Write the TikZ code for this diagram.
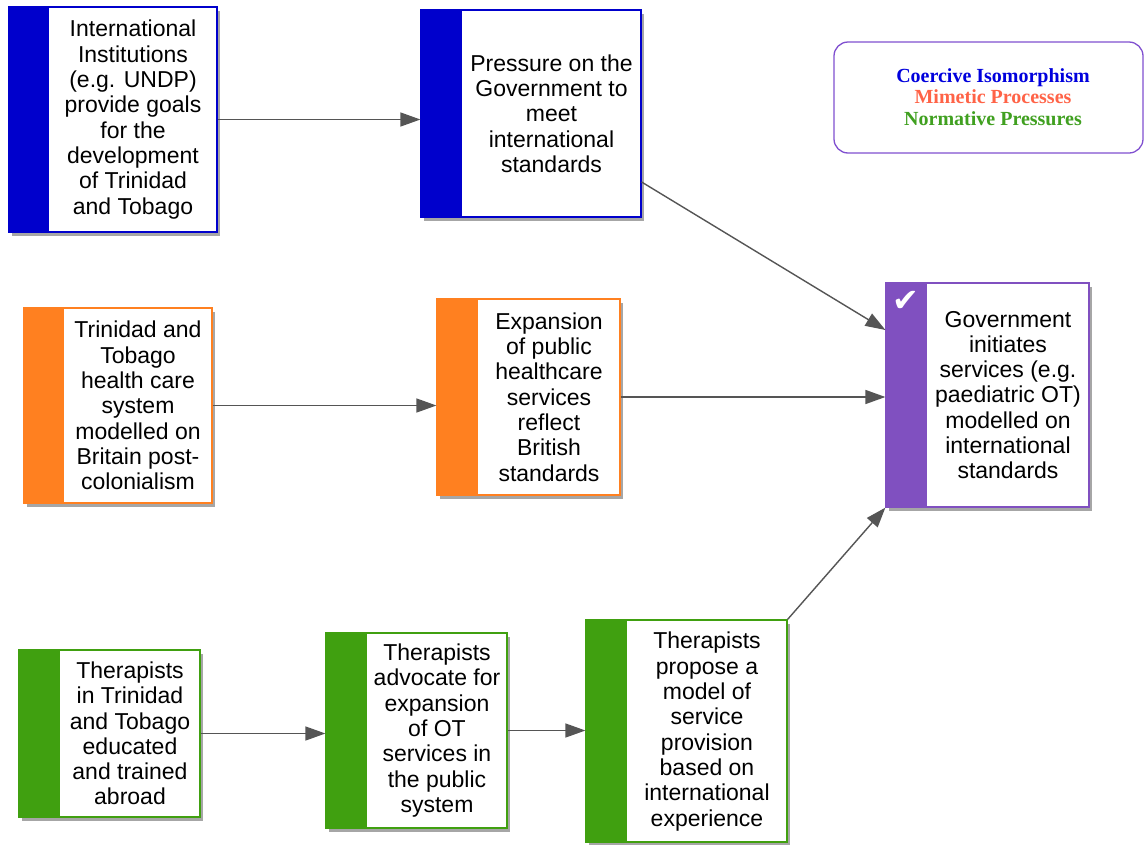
\documentclass[tikz,border=0pt]{standalone}
\usepackage{fontspec}
\setmainfont{Liberation Sans}
\newfontfamily\legfont{Liberation Serif}
\newfontfamily\symfont{DejaVu Sans}
\usetikzlibrary{arrows.meta,shadows,fit}
\definecolor{cblue}{HTML}{0000CC}
\definecolor{corange}{HTML}{FF8020}
\definecolor{cgreen}{HTML}{40A010}
\definecolor{cpurple}{HTML}{8050C0}
\definecolor{legblue}{HTML}{0000DD}
\definecolor{legred}{HTML}{FF6347}
\definecolor{leggreen}{HTML}{40A020}
\definecolor{legborder}{HTML}{8050D0}
\definecolor{arrowgray}{HTML}{555555}
\begin{document}
\begin{tikzpicture}[x=1pt,y=-1pt,
  box/.style={draw=#1, line width=1.2pt, fill=white, inner sep=0pt,
    drop shadow={shadow xshift=3pt, shadow yshift=-4pt, opacity=0.35, fill=black}},
  txt/.style={align=center, font=\fontsize{23}{25.3}\selectfont, inner sep=0pt},
  arr/.style={draw=arrowgray, line width=1.4pt, -{Triangle[length=20pt,width=14pt]}}]
\useasboundingbox (0,0) rectangle (1144,844);

% Coercive (blue)
\node[box=cblue, fit={(9,7)(217,232)}] (n1) {};
\fill[cblue] (9,7) rectangle (49,232);
\node[txt] (n1t) at (133,119.5) {International\\Institutions\\(e.g. UNDP)\\provide goals\\for the\\development\\of Trinidad\\and Tobago};

\node[box=cblue, fit={(421,10)(641,217)}] (p2) {};
\fill[cblue] (421,10) rectangle (462,217);
\node[txt] (p2t) at (551.5,113.5) {Pressure on the\\Government to\\meet\\international\\standards};

% Mimetic (orange)
\node[box=corange, fit={(24,308)(212,503)}] (hc) {};
\fill[corange] (24,308) rectangle (64,503);
\node[txt] (hct) at (138,405.5) {Trinidad and\\Tobago\\health care\\system\\modelled on\\Britain post-\\colonialism};

\node[box=corange, fit={(437,299)(620,495)}] (ex) {};
\fill[corange] (437,299) rectangle (478,495);
\node[txt] (ext) at (549,397) {Expansion\\of public\\healthcare\\services\\reflect\\British\\standards};

% Normative (green)
\node[box=cgreen, fit={(19,650)(200,817)}] (th) {};
\fill[cgreen] (19,650) rectangle (60,817);
\node[txt] (tht) at (130,733.5) {Therapists\\in Trinidad\\and Tobago\\educated\\and trained\\abroad};

\node[box=cgreen, fit={(326,633)(507,828)}] (ad) {};
\fill[cgreen] (326,633) rectangle (367,828);
\node[txt] (adt) at (437,730.5) {Therapists\\advocate for\\expansion\\of OT\\services in\\the public\\system};

\node[box=cgreen, fit={(586,620)(787,842)}] (pr) {};
\fill[cgreen] (586,620) rectangle (627,842);
\node[txt] (prt) at (707,731.5) {Therapists\\propose a\\model of\\service\\provision\\based on\\international\\experience};

% Outcome (purple)
\node[box=cpurple, fit={(886,283)(1089,507)}] (gov) {};
\fill[cpurple] (886,283) rectangle (927,507);
\node[text=white, font=\symfont\fontsize{32}{32}\selectfont, inner sep=0pt] (chk) at (906,301) {✔};
\node[txt] (govt) at (1008,395) {Government\\initiates\\services (e.g.\\paediatric OT)\\modelled on\\international\\standards};

% Legend
\node[draw=legborder, line width=1.3pt, rounded corners=14pt, fill=white, inner sep=0pt, fit={(834,42)(1143,153)}] (leg) {};
\node[align=center, inner sep=0pt, font=\legfont\bfseries\fontsize{20}{21.5}\selectfont] (legt) at (993,97)
  {\textcolor{legblue}{Coercive Isomorphism}\\\textcolor{legred}{Mimetic Processes}\\\textcolor{leggreen}{Normative Pressures}};

% Connectors
\draw[arr] (n1.east) -- (n1.east -| p2.west);
\draw[arr] ([yshift=-68.5pt]p2.east) -- ([yshift=65pt]gov.west);
\draw[arr] (hc.east) -- (hc.east -| ex.west);
\draw[arr] (ex.east) -- (ex.east -| gov.west);
\draw[arr] (th.east) -- (th.east -| ad.west);
\draw[arr] (ad.east) -- (ad.east -| pr.west);
\draw[arr] (pr.north east) -- (gov.south west);
\end{tikzpicture}
\end{document}
